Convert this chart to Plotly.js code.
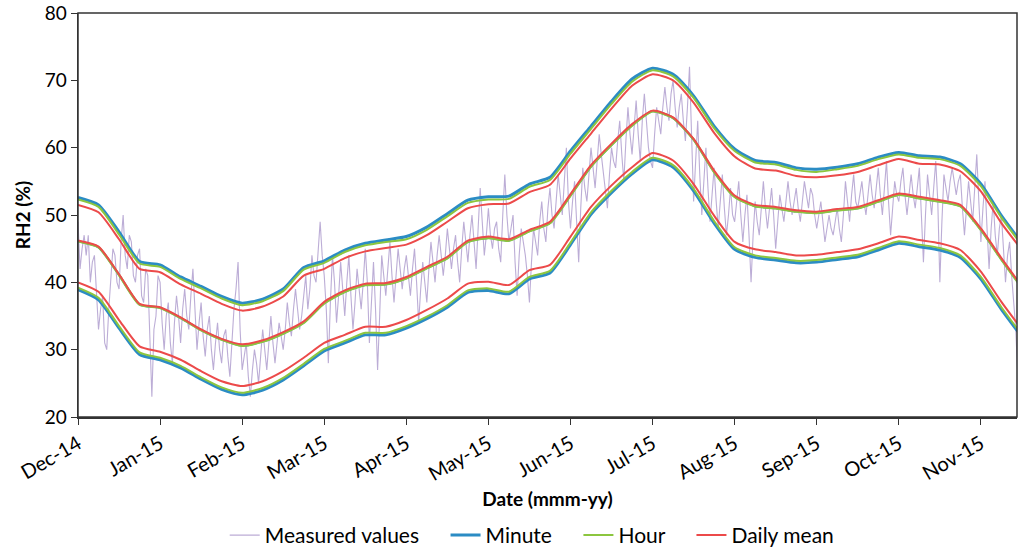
<!DOCTYPE html>
<html>
<head>
<meta charset="utf-8">
<script src="https://cdn.plot.ly/plotly-3.0.1.min.js"></script>
<style>
  html, body { margin: 0; padding: 0; background: #ffffff; }
  #chart { width: 1024px; height: 552px; }
</style>
</head>
<body>
<div id="chart"></div>
<script>
// month labels on an evenly spaced axis (0 = Dec-14)
const monthLabels = ["Dec-14", "Jan-15", "Feb-15", "Mar-15", "Apr-15", "May-15",
  "Jun-15", "Jul-15", "Aug-15", "Sep-15", "Oct-15", "Nov-15"];
const monthTicks = [0, 1, 2, 3, 4, 5, 6, 7, 8, 9, 10, 11];

// measured RH2, one reading every 0.025 month (20 per half month)
const measured = [
  49, 42, 45, 47, 44, 47, 40, 43, 44, 38, 33, 36, 38, 31, 30, 36, 41, 45, 44, 40,
  39, 46, 50, 44, 42, 47, 46, 41, 40, 44, 45, 38, 37, 42, 41, 30, 23, 33, 35, 41,
  40, 34, 30, 35, 37, 31, 28, 34, 38, 35, 31, 36, 39, 35, 33, 38, 42, 36, 30, 34,
  37, 32, 29, 33, 35, 30, 27, 31, 34, 30, 28, 32, 33, 29, 26, 31, 36, 39, 43, 33,
  27, 29, 31, 26, 23, 27, 30, 28, 25, 29, 33, 30, 27, 31, 35, 31, 28, 31, 34, 32,
  30, 33, 37, 34, 32, 36, 39, 36, 33, 35, 38, 41, 36, 39, 44, 41, 40, 45, 49, 44,
  41, 36, 28, 37, 44, 40, 34, 38, 43, 39, 35, 40, 44, 38, 33, 37, 42, 39, 36, 40,
  45, 40, 31, 37, 43, 36, 27, 35, 44, 41, 38, 42, 46, 41, 37, 41, 45, 42, 39, 42,
  44, 41, 38, 42, 45, 40, 34, 39, 43, 40, 37, 42, 46, 43, 40, 44, 47, 44, 41, 44,
  48, 45, 42, 45, 47, 43, 40, 45, 49, 46, 43, 47, 50, 46, 42, 48, 54, 49, 44, 47,
  51, 47, 45, 48, 49, 45, 43, 50, 56, 50, 46, 48, 50, 43, 38, 44, 48, 46, 44, 41,
  37, 43, 48, 46, 44, 49, 52, 48, 46, 51, 54, 50, 48, 52, 56, 53, 50, 55, 60, 52,
  48, 52, 55, 49, 43, 51, 57, 54, 52, 56, 60, 57, 54, 58, 62, 59, 56, 53, 51, 56,
  60, 58, 57, 61, 64, 59, 55, 61, 66, 62, 59, 63, 67, 62, 58, 64, 68, 64, 60, 58,
  57, 62, 66, 64, 62, 66, 69, 66, 64, 68, 70, 66, 63, 66, 68, 64, 61, 66, 72, 62,
  52, 58, 64, 56, 50, 55, 60, 54, 49, 53, 57, 52, 48, 52, 56, 51, 47, 50, 54, 50,
  49, 52, 55, 50, 46, 50, 53, 47, 40, 47, 52, 49, 47, 51, 55, 51, 48, 51, 54, 50,
  45, 49, 53, 51, 49, 52, 55, 52, 50, 52, 54, 51, 49, 52, 55, 53, 51, 54, 53, 50,
  48, 50, 52, 49, 46, 48, 50, 48, 47, 49, 51, 48, 46, 50, 55, 52, 49, 53, 56, 52,
  51, 53, 55, 52, 50, 53, 56, 53, 51, 54, 57, 53, 50, 54, 58, 52, 47, 51, 55, 53,
  52, 55, 57, 53, 50, 53, 56, 53, 51, 54, 57, 50, 43, 50, 56, 53, 50, 54, 58, 52,
  40, 49, 56, 54, 52, 55, 57, 55, 53, 55, 56, 51, 47, 51, 55, 52, 49, 54, 59, 52,
  46, 51, 55, 48, 42, 48, 52, 47, 44, 48, 50, 45, 40, 44, 46, 41, 37, 33, 26
];

// smoothed envelopes, one value every 0.25 month
const minuteUpper = [
  52.6, 51.5, 47.5, 43.1, 42.6, 40.8, 39.4, 37.9, 36.9, 37.5,
  39.0, 42.2, 43.2, 44.8, 45.8, 46.3, 46.8, 48.2, 50.2, 52.2,
  52.7, 52.8, 54.6, 55.6, 59.5, 63.2, 66.9, 70.2, 71.8, 70.9,
  67.7, 63.2, 59.8, 58.1, 57.8, 57.0, 56.8, 57.1, 57.6, 58.6,
  59.3, 58.8, 58.6, 57.6, 54.6, 49.9, 45.8
];
const minuteLower = [
  38.9, 37.4, 33.2, 29.3, 28.5, 27.3, 25.6, 24.1, 23.3, 24.0,
  25.5, 27.6, 29.8, 31.0, 32.2, 32.2, 33.2, 34.6, 36.3, 38.5,
  38.8, 38.3, 40.5, 41.4, 45.6, 50.1, 53.3, 56.1, 58.2, 57.1,
  53.6, 48.8, 44.9, 43.7, 43.3, 42.9, 43.0, 43.4, 43.8, 44.8,
  45.8, 45.3, 44.8, 43.7, 40.5, 36.0, 31.9
];
const hourUpper = [
  52.3, 51.2, 47.1, 42.8, 42.3, 40.5, 39.1, 37.6, 36.6, 37.2,
  38.7, 41.9, 42.9, 44.5, 45.5, 46.0, 46.4, 47.8, 49.8, 51.8,
  52.3, 52.4, 54.2, 55.2, 59.1, 62.8, 66.5, 69.8, 71.5, 70.6,
  67.4, 62.9, 59.5, 57.8, 57.5, 56.7, 56.4, 56.8, 57.3, 58.3,
  59.0, 58.5, 58.3, 57.3, 54.3, 49.6, 45.5
];
const hourMean = [
  46.1, 45.2, 41.1, 36.7, 36.2, 34.7, 32.9, 31.5, 30.6, 31.2,
  32.4, 34.0, 36.9, 38.6, 39.6, 39.7, 40.6, 42.1, 43.6, 46.0,
  46.6, 46.2, 47.6, 48.8, 52.9, 57.2, 60.4, 63.3, 65.4, 64.4,
  61.2, 56.4, 52.7, 51.3, 51.0, 50.5, 50.3, 50.7, 51.0, 52.0,
  53.0, 52.5, 52.0, 51.3, 47.8, 43.4, 39.2
];
const hourLower = [
  39.2, 37.7, 33.5, 29.6, 28.8, 27.6, 25.9, 24.4, 23.6, 24.3,
  25.8, 27.9, 30.1, 31.3, 32.5, 32.5, 33.5, 34.9, 36.6, 38.8,
  39.1, 38.6, 40.8, 41.7, 45.9, 50.4, 53.6, 56.4, 58.5, 57.4,
  53.9, 49.1, 45.2, 44.0, 43.6, 43.2, 43.3, 43.7, 44.1, 45.1,
  46.1, 45.6, 45.1, 44.0, 40.8, 36.3, 32.2
];
const dailyUpper = [
  51.5, 50.4, 46.4, 42.0, 41.5, 39.7, 38.3, 36.8, 35.8, 36.4,
  37.9, 41.0, 42.0, 43.6, 44.6, 45.1, 45.6, 47.0, 49.0, 51.0,
  51.6, 51.7, 53.4, 54.5, 58.4, 62.1, 65.8, 69.2, 70.9, 70.0,
  66.7, 62.2, 58.7, 56.9, 56.6, 55.8, 55.6, 55.9, 56.4, 57.4,
  58.3, 57.6, 57.5, 56.5, 53.5, 48.8, 44.8
];
const dailyMean = [
  46.2, 45.3, 41.2, 36.8, 36.3, 34.8, 33.0, 31.6, 30.8, 31.4,
  32.6, 34.2, 37.1, 38.8, 39.8, 39.9, 40.8, 42.3, 43.8, 46.2,
  46.8, 46.4, 47.8, 49.0, 53.1, 57.4, 60.6, 63.5, 65.5, 64.5,
  61.3, 56.6, 52.9, 51.5, 51.2, 50.7, 50.5, 50.9, 51.2, 52.2,
  53.2, 52.7, 52.2, 51.5, 48.0, 43.6, 39.4
];
const dailyLower = [
  40.0, 38.6, 34.4, 30.5, 29.7, 28.5, 26.8, 25.3, 24.6, 25.3,
  26.8, 28.8, 31.0, 32.2, 33.4, 33.4, 34.4, 35.9, 37.6, 39.8,
  40.1, 39.6, 41.8, 42.6, 46.8, 51.2, 54.4, 57.1, 59.2, 58.1,
  54.6, 49.9, 46.0, 44.9, 44.5, 44.0, 44.1, 44.5, 44.9, 45.8,
  46.8, 46.3, 45.8, 44.8, 41.6, 37.1, 33.0
];

const MEASURED_STEP = 0.025;
const SMOOTH_STEP = 0.25;
const measuredX = measured.map((_, i) => i * MEASURED_STEP);
const smoothX = dailyMean.map((_, i) => i * SMOOTH_STEP);

const colors = {
  measured: "rgba(165,145,200,0.75)",
  minute: "#2b8cc4",
  hour: "#8cc63f",
  daily: "#ec4a4a",
};

// legend names padded so the entries spread out like the original
const PAD = "\u00a0\u00a0\u00a0\u00a0";

function band(ys, name, color, width, first) {
  return {
    x: smoothX,
    y: ys,
    type: "scatter",
    mode: "lines",
    line: { color: color, width: width, shape: "spline", smoothing: 0.6 },
    name: name + PAD,
    legendgroup: name,
    showlegend: first,
    hoverinfo: "skip",
  };
}

const traces = [
  {
    x: measuredX,
    y: measured,
    type: "scatter",
    mode: "lines",
    line: { color: colors.measured, width: 1.1 },
    name: "Measured values" + PAD,
    hoverinfo: "skip",
  },
  band(minuteUpper, "Minute", colors.minute, 3, true),
  band(hourMean, "Minute", colors.minute, 2, false),
  band(minuteLower, "Minute", colors.minute, 3, false),
  band(hourUpper, "Hour", colors.hour, 2, true),
  band(hourMean, "Hour", colors.hour, 2.5, false),
  band(hourLower, "Hour", colors.hour, 2, false),
  band(dailyUpper, "Daily mean", colors.daily, 2, true),
  band(dailyMean, "Daily mean", colors.daily, 2, false),
  band(dailyLower, "Daily mean", colors.daily, 2, false),
];

const fontFamily = "Lato, 'Liberation Sans', sans-serif";

const layout = {
  width: 1024,
  height: 552,
  margin: { t: 13, l: 78, r: 7, b: 135 },
  paper_bgcolor: "#ffffff",
  plot_bgcolor: "#ffffff",
  font: { family: fontFamily, color: "#000000", size: 19 },
  showlegend: true,
  legend: {
    orientation: "h",
    x: 0.53,
    xref: "container",
    xanchor: "center",
    y: 0.03,
    yref: "container",
    yanchor: "middle",
    itemwidth: 30,
    font: { size: 21, color: "#000000" },
  },
  // plot frame (top and right edges of the box)
  shapes: [{
    type: "rect", xref: "paper", yref: "paper",
    x0: 0, x1: 1, y0: 0, y1: 1,
    line: { color: "#333333", width: 1.5 },
    layer: "above",
  }],
  xaxis: {
    range: [0, 11.44],
    tickvals: monthTicks,
    ticktext: monthLabels,
    tickangle: -30,
    ticks: "outside",
    ticklen: 6,
    tickcolor: "#333333",
    showline: true,
    linecolor: "#333333",
    linewidth: 1.5,
    showgrid: false,
    zeroline: false,
    automargin: false,
    tickfont: { size: 20 },
    title: { text: "<b>Date (mmm-yy)</b>", font: { size: 19 } },
  },
  yaxis: {
    range: [20, 80],
    tickvals: [20, 30, 40, 50, 60, 70, 80],
    ticks: "outside",
    ticklen: 6,
    tickcolor: "#333333",
    showline: true,
    linecolor: "#333333",
    linewidth: 1.5,
    showgrid: false,
    zeroline: false,
    automargin: false,
    ticklabeloverflow: "allow",
    tickfont: { size: 19 },
    title: { text: "<b>RH2 (%)</b>", font: { size: 19 } },
  },
};

Plotly.newPlot("chart", traces, layout, { displayModeBar: false, staticPlot: true });
</script>
</body>
</html>
